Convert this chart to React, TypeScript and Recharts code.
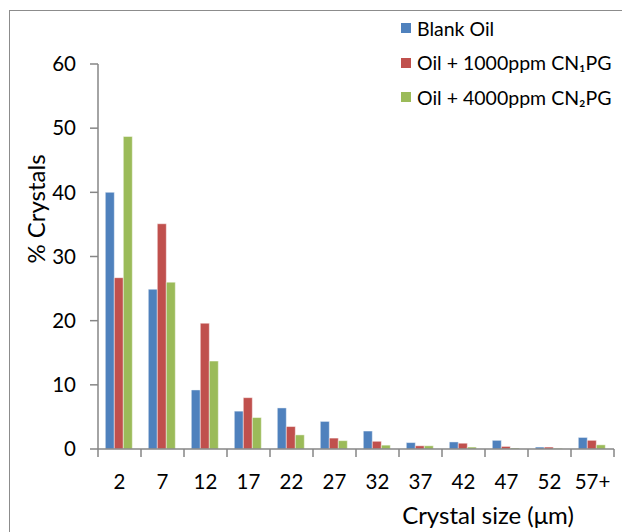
import { Bar, BarChart, XAxis, YAxis } from 'recharts'

const CATEGORIES = ['2', '7', '12', '17', '22', '27', '32', '37', '42', '47', '52', '57+']
const BLANK_OIL = [40, 24.9, 9.2, 5.9, 6.4, 4.3, 2.8, 1.0, 1.1, 1.35, 0.3, 1.8]
const OIL_CN1PG = [26.7, 35.1, 19.6, 8.0, 3.5, 1.7, 1.2, 0.5, 0.9, 0.4, 0.3, 1.35]
const OIL_CN2PG = [48.7, 26.0, 13.7, 4.9, 2.2, 1.3, 0.6, 0.5, 0.3, 0.15, 0.1, 0.65]
const Y_TICKS = [0, 10, 20, 30, 40, 50, 60]

const SERIES = [
  { key: 'blank', name: 'Blank Oil', color: '#4F81BD' },
  { key: 'cn1', name: 'Oil + 1000ppm CN\u2081PG', color: '#C0504D' },
  { key: 'cn2', name: 'Oil + 4000ppm CN\u2082PG', color: '#9BBB59' },
]

const data = CATEGORIES.map((size, i) => ({
  size,
  blank: BLANK_OIL[i],
  cn1: OIL_CN1PG[i],
  cn2: OIL_CN2PG[i],
}))

const FONT = 'Lato, "Open Sans", sans-serif'
const AXIS_COLOR = '#868686'
const PLOT_LEFT = 98
const PLOT_RIGHT = 614
const BAND = (PLOT_RIGHT - PLOT_LEFT) / CATEGORIES.length

interface TickProps {
  x?: number | string
  y?: number | string
  index?: number
  payload?: { value: string }
}

// Excel style: tick marks sit between categories, labels in the middle
function CategoryTick({ x, y, index, payload }: TickProps) {
  if (!payload) return null
  const cx = Number(x)
  const ty = Number(y)
  const left = cx - BAND / 2
  return (
    <g>
      <line x1={left} x2={left} y1={ty - 8} y2={ty} stroke={AXIS_COLOR} strokeWidth={1.5} />
      {index === CATEGORIES.length - 1 && (
        <line x1={cx + BAND / 2} x2={cx + BAND / 2} y1={ty - 8} y2={ty} stroke={AXIS_COLOR} strokeWidth={1.5} />
      )}
      <text x={cx} y={ty + 32} textAnchor='middle' fill='#000' style={{ fontFamily: FONT, fontSize: 20.5 }}>
        {payload.value}
      </text>
    </g>
  )
}

function LegendBox() {
  return (
    <div style={{ position: 'absolute', left: 401, top: 11, fontFamily: FONT, fontSize: 19.5, color: '#000' }}>
      {SERIES.map((s) => (
        <div key={s.key} style={{ display: 'flex', alignItems: 'center', height: 34.5 }}>
          <span style={{ width: 10, height: 10, background: s.color, marginRight: 6, display: 'inline-block' }} />
          <span>{s.name}</span>
        </div>
      ))}
    </div>
  )
}

export default function App() {
  return (
    <div style={{ position: 'absolute', left: 0, top: 0, width: 622, height: 532, background: '#fff', overflow: 'hidden' }}>
      <div
        style={{
          position: 'absolute',
          left: 9,
          top: 10,
          width: 700,
          height: 600,
          borderLeft: '1.5px solid #8c8c8c',
          borderTop: '1.5px solid #8c8c8c',
        }}
      />
      <BarChart
        width={622}
        height={532}
        data={data}
        margin={{ top: 64, right: 622 - PLOT_RIGHT, left: PLOT_LEFT - 60, bottom: 532 - 449 - 40 }}
        barCategoryGap='17%'
        barGap={0}
        style={{ position: 'absolute', left: 0, top: 0 }}
      >
        <XAxis
          dataKey='size'
          height={40}
          tickLine={false}
          tickSize={8}
          tickMargin={0}
          interval={0}
          stroke={AXIS_COLOR}
          strokeWidth={1.5}
          tick={CategoryTick}
        />
        <YAxis
          width={60}
          domain={[0, 60]}
          ticks={Y_TICKS}
          tickSize={8}
          tickMargin={14}
          stroke={AXIS_COLOR}
          strokeWidth={1.5}
          tick={{ fill: '#000', fontSize: 20.5, fontFamily: FONT }}
          interval={0}
        />
        {SERIES.map((s) => (
          <Bar
            key={s.key}
            dataKey={s.key}
            name={s.name}
            fill={s.color}
            stroke='#ffffff'
            strokeOpacity={0.45}
            strokeWidth={1}
            isAnimationActive={false}
          />
        ))}
      </BarChart>
      <LegendBox />
      <div
        style={{
          position: 'absolute',
          left: 368,
          top: 500,
          width: 240,
          textAlign: 'center',
          fontFamily: FONT,
          fontSize: 24,
          color: '#000',
        }}
      >
        Crystal size (μm)
      </div>
      <div
        style={{
          position: 'absolute',
          left: 35,
          top: 209,
          transform: 'translate(-50%, -50%) rotate(-90deg)',
          fontFamily: FONT,
          fontSize: 24,
          color: '#000',
          whiteSpace: 'nowrap',
        }}
      >
        % Crystals
      </div>
    </div>
  )
}
